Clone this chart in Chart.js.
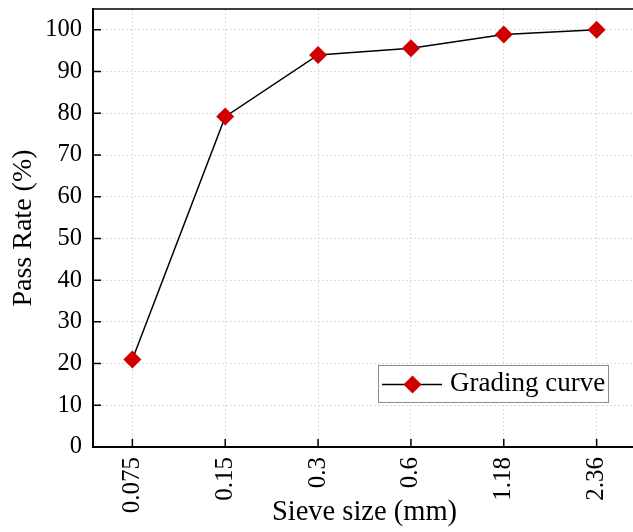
<!DOCTYPE html>
<html>
<head>
<meta charset="utf-8">
<script src="https://cdn.jsdelivr.net/npm/chart.js@4"></script>
<style>
  html, body { margin: 0; padding: 0; background: #fff; overflow: hidden; }
  canvas { display: block; }
</style>
</head>
<body>
<!-- a bit wider than the window: the plot frame runs past the right edge -->
<canvas id="chart" width="640" height="532"></canvas>
<script>
// sieve sizes (mm) and cumulative pass rate (%)
const sieveSizes = ['0.075', '0.15', '0.3', '0.6', '1.18', '2.36'];
const passRate = [21.0, 79.2, 94.0, 95.6, 98.9, 100.0];
const yTicks = [0, 10, 20, 30, 40, 50, 60, 70, 80, 90, 100];
const seriesLabel = 'Grading curve';

const FONT = "'Liberation Serif', 'Times New Roman', serif";
const RED = '#d00000';

// inward tick marks, top/right frame and the boxed legend
const framePlugin = {
    id: 'frame',
    afterDraw(chart) {
        const ctx = chart.ctx;
        const a = chart.chartArea;
        const xs = chart.scales.x;
        const ys = chart.scales.y;
        ctx.save();
        ctx.strokeStyle = '#000';
        ctx.lineWidth = 1.5;
        ctx.beginPath();
        ctx.moveTo(a.left, a.top);
        ctx.lineTo(a.right, a.top);
        ctx.lineTo(a.right, a.bottom);
        ctx.stroke();

        ctx.beginPath();
        xs.ticks.forEach(t => {
            const px = xs.getPixelForValue(t.value);
            ctx.moveTo(px, a.bottom);
            ctx.lineTo(px, a.bottom - 8);
        });
        ys.ticks.forEach(t => {
            const py = ys.getPixelForValue(t.value);
            ctx.moveTo(a.left, py);
            ctx.lineTo(a.left + 8, py);
        });
        ctx.stroke();

        // legend
        const bx = a.left + 285, by = a.top + 356, bw = 230, bh = 37;
        ctx.fillStyle = '#fff';
        ctx.fillRect(bx, by, bw, bh);
        ctx.strokeStyle = '#8c8c8c';
        ctx.lineWidth = 1;
        ctx.strokeRect(bx + 0.5, by + 0.5, bw, bh);
        const cy = by + bh / 2 + 1;
        ctx.strokeStyle = '#000';
        ctx.lineWidth = 1.5;
        ctx.beginPath();
        ctx.moveTo(bx + 4, cy);
        ctx.lineTo(bx + 64, cy);
        ctx.stroke();
        const mx = bx + 34.5, r = 9;
        ctx.fillStyle = RED;
        ctx.beginPath();
        ctx.moveTo(mx, cy - r);
        ctx.lineTo(mx + r, cy);
        ctx.lineTo(mx, cy + r);
        ctx.lineTo(mx - r, cy);
        ctx.closePath();
        ctx.fill();
        ctx.fillStyle = '#000';
        ctx.font = '27px ' + FONT;
        ctx.textBaseline = 'middle';
        ctx.textAlign = 'left';
        ctx.fillText(seriesLabel, bx + 72, cy - 1);
        ctx.restore();
    }
};

const ctx = document.getElementById('chart').getContext('2d');
new Chart(ctx, {
    type: 'line',
    data: {
        datasets: [{
            label: seriesLabel,
            data: passRate.map((v, i) => ({ x: i, y: v })),
            borderColor: '#000',
            borderWidth: 1.5,
            tension: 0,
            pointStyle: 'rectRot',
            pointRadius: 9,
            pointHoverRadius: 9,
            pointBackgroundColor: RED,
            pointBorderColor: RED,
            pointBorderWidth: 0
        }]
    },
    options: {
        responsive: false,
        animation: false,
        devicePixelRatio: 1,
        layout: { autoPadding: false, padding: { top: 9, right: 4, bottom: 0, left: 0 } },
        plugins: {
            legend: { display: false },
            tooltip: { enabled: false }
        },
        scales: {
            x: {
                type: 'linear',
                min: -0.424,
                max: 5.424,
                afterBuildTicks: axis => { axis.ticks = sieveSizes.map((s, i) => ({ value: i })); },
                afterFit: axis => {
                    axis.height = 85;
                    axis.paddingLeft = 0;
                    axis.paddingRight = 0;
                },
                ticks: {
                    autoSkip: false,
                    maxRotation: 90,
                    minRotation: 90,
                    padding: 10,
                    color: '#000',
                    font: { family: FONT, size: 25 },
                    callback: v => sieveSizes[v]
                },
                grid: { color: '#dcdcdc', lineWidth: 1, drawTicks: false },
                border: { color: '#000', width: 2, dash: [2, 2] },
                title: {
                    display: true,
                    text: 'Sieve size (mm)',
                    color: '#000',
                    font: { family: FONT, size: 28.5 },
                    padding: { top: 0, bottom: 2 }
                }
            },
            y: {
                min: 0,
                max: 105,
                afterBuildTicks: axis => { axis.ticks = yTicks.map(v => ({ value: v })); },
                afterFit: axis => {
                    axis.width = 93;
                    axis.paddingTop = 0;
                    axis.paddingBottom = 0;
                },
                ticks: {
                    padding: 11,
                    color: '#000',
                    font: { family: FONT, size: 24.5 }
                },
                grid: { color: '#dcdcdc', lineWidth: 1, drawTicks: false },
                border: { color: '#000', width: 2, dash: [2, 2] },
                title: {
                    display: true,
                    text: 'Pass Rate (%)',
                    color: '#000',
                    font: { family: FONT, size: 28 },
                    padding: { top: 7, bottom: 0 }
                }
            }
        }
    },
    plugins: [framePlugin]
});
</script>
</body>
</html>
